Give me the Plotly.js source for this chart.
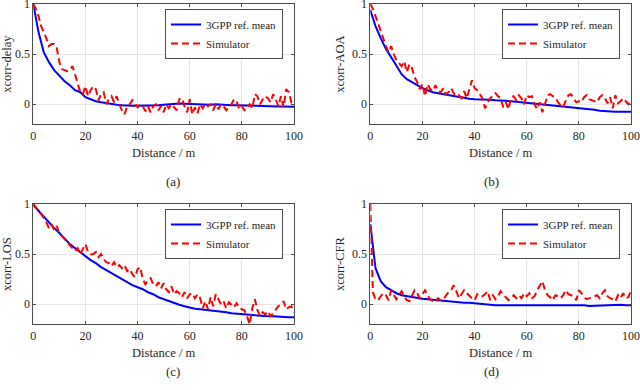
<!DOCTYPE html>
<html>
<head>
<meta charset="utf-8">
<script src="https://cdn.plot.ly/plotly-3.0.1.min.js"></script>
<style>
  body { margin: 0; background: #fff; }
  #graph { width: 640px; height: 390px; }
</style>
</head>
<body>
<div id="graph"></div>
<script>
// distance axis: simulator every 1 m, reference mean read every 2 m
let dist_sim = [];
for (let i = 0; i <= 100; i++) dist_sim.push(i);
let dist_ref = [];
for (let i = 0; i <= 100; i += 2) dist_ref.push(i);

let ref_delay = [1.0, 0.72, 0.52, 0.42, 0.34, 0.28, 0.23, 0.19, 0.14, 0.12, 0.07, 0.05, 0.03, 0.02, 0.01, 0.005, -0.005, -0.01, -0.015, -0.015,
    -0.015, -0.015, -0.015, -0.01, -0.01, -0.005, 0.0, 0.005, 0.008, 0.005, 0.002, 0.0, 0.0, -0.005, -0.005, 0.0, -0.005, -0.008, -0.01, -0.01,
    -0.012, -0.015, -0.015, -0.02, -0.02, -0.02, -0.022, -0.022, -0.022, -0.02, -0.025];
let sim_delay = [1.0, 0.95, 0.88, 0.78, 0.72, 0.66, 0.58, 0.6, 0.6, 0.56, 0.42, 0.35, 0.34, 0.33, 0.34, 0.38, 0.3, 0.22, 0.12, 0.1,
    0.18, 0.08, 0.14, 0.18, 0.15, 0.04, 0.1, 0.12, 0.0, 0.05, 0.08, 0.02, 0.08, 0.0, -0.06, -0.1, -0.02, 0.0, 0.04, 0.01,
    -0.03, 0.0, -0.02, -0.07, -0.02, -0.08, -0.02, 0.0, -0.06, -0.02, -0.08, 0.0, -0.04, 0.0, -0.03, -0.06, 0.05, 0.06, -0.02, -0.08,
    0.05, -0.1, -0.03, -0.09, 0.0, -0.04, 0.01, -0.02, 0.0, -0.06, 0.0, -0.05, 0.0, -0.02, -0.06, -0.03, 0.0, 0.05, 0.03, -0.05,
    -0.02, -0.06, -0.04, 0.0, -0.04, 0.1, 0.08, 0.0, 0.05, 0.08, 0.06, 0.02, 0.1, 0.05, -0.02, 0.08, -0.03, 0.15, 0.12, 0.02, 0.04];

let ref_aoa = [0.94, 0.78, 0.66, 0.55, 0.47, 0.39, 0.3, 0.25, 0.22, 0.19, 0.16, 0.14, 0.12, 0.11, 0.1, 0.09, 0.08, 0.07, 0.06, 0.055,
    0.05, 0.05, 0.045, 0.045, 0.04, 0.04, 0.035, 0.03, 0.025, 0.015, 0.01, 0.005, 0.0, -0.005, -0.01, -0.015, -0.015, -0.02, -0.025, -0.03,
    -0.04, -0.045, -0.05, -0.055, -0.065, -0.07, -0.072, -0.075, -0.075, -0.073, -0.075];
let sim_aoa = [1.0, 0.95, 0.88, 0.8, 0.72, 0.66, 0.58, 0.52, 0.58, 0.5, 0.44, 0.41, 0.38, 0.43, 0.32, 0.4, 0.36, 0.27, 0.22, 0.15,
    0.2, 0.08, 0.2, 0.15, 0.13, 0.19, 0.13, 0.12, 0.16, 0.1, 0.12, 0.16, 0.11, 0.08, 0.09, 0.06, 0.13, 0.06, 0.16, 0.24,
    0.16, 0.14, 0.1, 0.06, -0.04, 0.01, 0.06, 0.08, 0.11, 0.08, 0.06, -0.03, 0.02, -0.05, 0.07, 0.08, 0.04, 0.09, 0.06, 0.0,
    0.09, 0.07, 0.08, 0.0, -0.05, 0.02, -0.08, 0.0, 0.09, 0.1, 0.08, 0.07, 0.02, -0.01, -0.03, 0.04, 0.09, 0.1, 0.06, 0.02,
    0.03, 0.02, 0.07, 0.09, 0.05, 0.04, 0.03, 0.02, 0.07, 0.09, 0.06, 0.01, 0.07, -0.04, 0.09, 0.01, 0.03, 0.06, 0.03, 0.0, 0.04];

let ref_los = [0.99, 0.93, 0.87, 0.82, 0.76, 0.71, 0.65, 0.6, 0.56, 0.52, 0.48, 0.44, 0.41, 0.37, 0.34, 0.31, 0.28, 0.25, 0.22, 0.19,
    0.17, 0.15, 0.12, 0.1, 0.07, 0.05, 0.03, 0.01, -0.005, -0.02, -0.035, -0.045, -0.05, -0.055, -0.06, -0.065, -0.075, -0.08, -0.09, -0.095,
    -0.1, -0.105, -0.11, -0.11, -0.115, -0.12, -0.12, -0.125, -0.13, -0.13, -0.13];
let sim_los = [1.0, 0.97, 0.94, 0.9, 0.86, 0.82, 0.76, 0.8, 0.74, 0.78, 0.7, 0.68, 0.65, 0.62, 0.6, 0.56, 0.53, 0.56, 0.5, 0.55,
    0.6, 0.52, 0.5, 0.5, 0.52, 0.47, 0.5, 0.45, 0.42, 0.41, 0.38, 0.42, 0.37, 0.39, 0.36, 0.39, 0.33, 0.35, 0.3, 0.27,
    0.35, 0.37, 0.25, 0.2, 0.24, 0.26, 0.2, 0.18, 0.22, 0.16, 0.21, 0.15, 0.12, 0.18, 0.1, 0.13, 0.11, 0.07, 0.12, 0.06,
    0.1, 0.11, 0.06, 0.1, 0.06, -0.04, 0.03, -0.05, 0.07, -0.02, 0.1, 0.05, 0.0, 0.03, -0.04, 0.02, -0.01, -0.03, 0.01, -0.04,
    -0.05, -0.06, -0.12, -0.2, -0.04, 0.05, -0.06, -0.12, -0.08, -0.1, -0.07, -0.12, -0.09, -0.05, -0.02, 0.0, 0.03, -0.05, -0.03, -0.02, -0.08];

let ref_cfr = [0.8, 0.36, 0.23, 0.17, 0.14, 0.11, 0.09, 0.08, 0.07, 0.06, 0.055, 0.05, 0.045, 0.04, 0.03, 0.025, 0.02, 0.02, 0.015, 0.015,
    0.01, 0.0, -0.005, -0.01, -0.01, -0.01, -0.01, -0.012, -0.012, -0.015, -0.015, -0.012, -0.015, -0.015, -0.012, -0.015, -0.015, -0.012, -0.008, -0.015,
    -0.015, -0.01, -0.018, -0.015, -0.012, -0.01, -0.012, -0.01, -0.005, -0.01, -0.01];
let sim_cfr = [1.0, 0.12, 0.05, 0.04, 0.08, 0.11, 0.09, 0.04, 0.14, 0.09, 0.05, 0.09, 0.13, 0.08, 0.04, 0.03, 0.08, 0.14, 0.11, 0.06,
    0.1, 0.14, 0.09, 0.05, 0.03, 0.02, 0.06, 0.04, 0.05, 0.09, 0.12, 0.14, 0.19, 0.13, 0.06, 0.1, 0.14, 0.11, 0.08, 0.06,
    0.04, 0.1, 0.08, 0.08, 0.1, 0.13, 0.04, 0.09, 0.05, 0.08, 0.13, 0.09, 0.07, 0.04, 0.06, 0.09, 0.06, 0.09, 0.06, 0.11,
    0.08, 0.11, 0.06, 0.08, 0.14, 0.19, 0.23, 0.14, 0.09, 0.07, 0.04, 0.09, 0.08, 0.06, 0.09, 0.14, 0.1, 0.09, 0.08, 0.04,
    0.14, 0.11, 0.07, 0.05, 0.06, 0.07, 0.08, 0.09, 0.06, 0.11, 0.14, 0.08, 0.06, 0.05, 0.03, 0.09, 0.06, 0.11, 0.06, 0.07, 0.14];

let panels = [
    { ref: ref_delay, sim: sim_delay, ylabel: 'xcorr-delay', tag: '(a)' },
    { ref: ref_aoa, sim: sim_aoa, ylabel: 'xcorr-AOA', tag: '(b)' },
    { ref: ref_los, sim: sim_los, ylabel: 'xcorr-LOS', tag: '(c)' },
    { ref: ref_cfr, sim: sim_cfr, ylabel: 'xcorr-CFR', tag: '(d)' },
];

const W = 640, H = 390;
// pixel boxes of the four axes: [left, right, top, bottom]
let boxes = [
    [33.3, 294, 4, 124.3],
    [370.3, 631, 4, 124.3],
    [33.3, 294, 204, 324.3],
    [370.3, 631, 204, 324.3],
];
const serif = "'Liberation Serif', 'Times New Roman', serif";
const txt_col = '#262626';
const axis_col = '#4d4d4d';

function f(size) {
    return { family: serif, size: size, color: txt_col };
}

function plot_panels() {
    let traces = [];
    let layout = {
        width: W,
        height: H,
        margin: { l: 0, r: 0, t: 0, b: 0 },
        paper_bgcolor: 'white',
        plot_bgcolor: 'white',
        font: f(12),
        annotations: [],
        showlegend: true,
    };
    panels.forEach((p, i) => {
        let n = i === 0 ? '' : String(i + 1);
        let [l, r, t, b] = boxes[i];
        let leg = 'legend' + n;
        traces.push({
            x: dist_ref, y: p.ref, xaxis: 'x' + n, yaxis: 'y' + n,
            type: 'scatter', mode: 'lines', name: '3GPP ref. mean',
            line: { color: '#0000ff', width: 2 },
            legend: leg,
        });
        traces.push({
            x: dist_sim, y: p.sim, xaxis: 'x' + n, yaxis: 'y' + n,
            type: 'scatter', mode: 'lines', name: 'Simulator',
            line: { color: '#ff0000', width: 2, dash: '7px,4px' },
            legend: leg,
        });
        layout['xaxis' + n] = {
            domain: [l / W, r / W],
            anchor: 'y' + n,
            range: [0, 100],
            tickvals: [0, 20, 40, 60, 80, 100],
            showgrid: true, gridcolor: '#e6e6e6', gridwidth: 1,
            zeroline: false,
            showline: true, mirror: 'ticks', linecolor: axis_col, linewidth: 1,
            ticks: 'inside', ticklen: 3, tickcolor: axis_col,
            tickfont: f(12),
            ticklabeloverflow: 'allow',
            title: { text: 'Distance / m', font: f(12.5), standoff: 6 },
            automargin: false,
        };
        layout['yaxis' + n] = {
            domain: [1 - b / H, 1 - t / H],
            anchor: 'x' + n,
            range: [-0.2, 1],
            tickvals: [0, 0.5, 1],
            ticktext: ['0', '0.5', '1'],
            showgrid: true, gridcolor: '#e6e6e6', gridwidth: 1,
            zeroline: false,
            showline: true, mirror: 'ticks', linecolor: axis_col, linewidth: 1,
            ticks: 'inside', ticklen: 3, tickcolor: axis_col,
            tickfont: f(12),
            ticklabeloverflow: 'allow',
            title: { text: p.ylabel, font: f(12.5), standoff: 4 },
            automargin: false,
        };
        layout[leg] = {
            x: (r - 11) / W,
            y: 1 - (t + 5) / H,
            xanchor: 'right',
            yanchor: 'top',
            bgcolor: 'white',
            bordercolor: axis_col,
            borderwidth: 1,
            font: f(11),
            tracegroupgap: 0,
        };
        layout.annotations.push({
            text: p.tag,
            xref: 'paper', yref: 'paper',
            x: (l + r) / 2 / W,
            y: 1 - (b + 57) / H,
            showarrow: false,
            font: f(13),
        });
    });
    Plotly.newPlot('graph', traces, layout, { displayModeBar: false, staticPlot: true });
}

plot_panels();
</script>
</body>
</html>
